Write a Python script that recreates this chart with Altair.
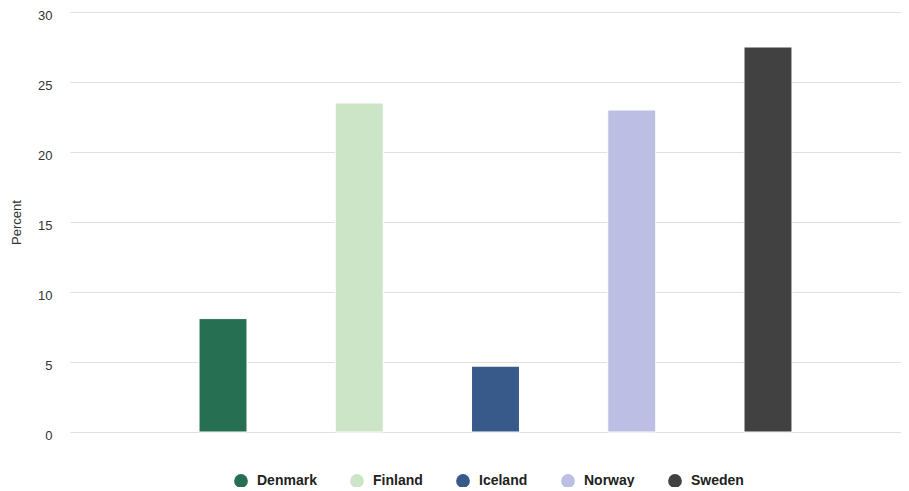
import altair as alt
import pandas as pd

countries = ["Denmark", "Finland", "Iceland", "Norway", "Sweden"]
values = [8.1, 23.5, 4.7, 23.0, 27.5]
colors = ["#276f52", "#cce5c6", "#385a8b", "#bcbfe3", "#414141"]

df = pd.DataFrame({"Country": countries, "Percent": values})

chart = alt.Chart(df).mark_bar(stroke="white", strokeWidth=1).encode(
    x=alt.X("Country:N", sort=countries, axis=None,
            scale=alt.Scale(range=[0, 851], paddingInner=0.648, paddingOuter=0.947)),
    y=alt.Y("Percent:Q", scale=alt.Scale(domain=[0, 30]),
            axis=alt.Axis(values=[0, 5, 10, 15, 20, 25, 30], title="Percent",
                          domain=False, ticks=False, labelPadding=18,
                          labelFontSize=13, labelColor="#333333", labelFont="Liberation Sans",
                          labelOffset=3,
                          titleFontSize=13, titleFontWeight="normal", titleColor="#333333",
                          titleFont="Liberation Sans", titlePadding=14,
                          gridColor="#e0e0e0", gridWidth=1)),
    color=alt.Color("Country:N", sort=countries,
                    scale=alt.Scale(domain=countries, range=colors),
                    legend=alt.Legend(orient="none", legendX=164, legendY=462,
                                      direction="horizontal", title=None,
                                      symbolType="circle", symbolSize=190,
                                      symbolStrokeWidth=0, symbolOpacity=1,
                                      labelFontSize=14, labelFontWeight="bold",
                                      labelFont="Liberation Sans", labelColor="#222222",
                                      columnPadding=33, labelOffset=9)),
).properties(
    width=831, height=420,
    autosize=alt.AutoSizeParams(type="none"),
    padding={"left": 62, "top": 4, "right": 0, "bottom": 55},
).configure_view(stroke=None)

chart.save("out.html", embed_options={"renderer": "svg", "actions": False})
